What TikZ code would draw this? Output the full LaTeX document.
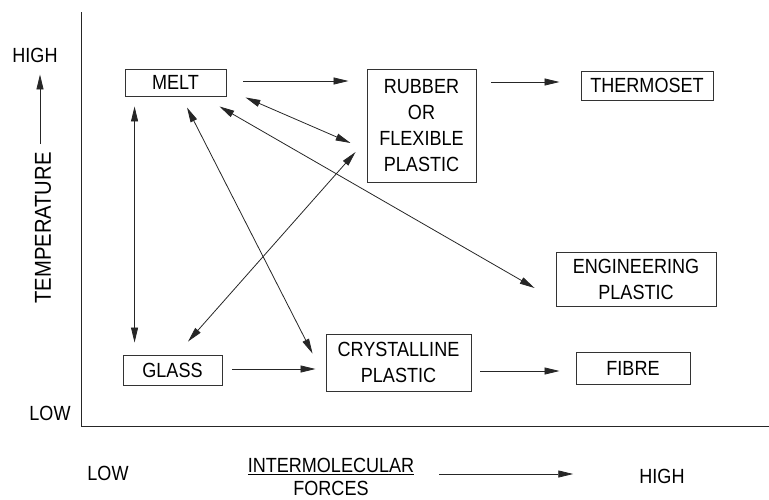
\documentclass[tikz,border=0pt]{standalone}
\usepackage{fontspec}
\setmainfont{Liberation Sans}[FakeStretch=0.88]
\usetikzlibrary{arrows.meta,calc}
\begin{document}
\begin{tikzpicture}[x=1pt,y=-1pt,
  box/.style={draw=black!80,line width=0.9pt,inner sep=0pt,align=center,
    font=\fontsize{20.5}{26}\selectfont},
  lbl/.style={inner sep=0pt,align=center,font=\fontsize{20.5}{23}\selectfont},
  conn/.style={draw=black!85,line width=0.8pt,-{Triangle[length=15pt,width=7pt]}},
  dconn/.style={draw=black!85,line width=0.8pt,{Triangle[length=15pt,width=7pt]}-{Triangle[length=15pt,width=7pt]}}]
\useasboundingbox (0,0) rectangle (769,499);
% axes
\coordinate (ytop) at (81,12);
\coordinate (origin) at (81,426);
\coordinate (xend) at (769,426);
\draw[black!85,line width=0.8pt] (ytop) -- (origin) -- (xend);
% axis labels
\node[lbl] (yhigh) at (35,55) {HIGH};
\node[lbl] (ylow) at (50,413) {LOW};
\node[lbl,rotate=90,font=\fontsize{23}{23}\selectfont] (ytemp) at (43,228) {TEMPERATURE};
\draw[conn] ($(ytemp.east)+(-3,-8)$) -- ($(yhigh.south)+(5,12)$);
\node[lbl] (xlow) at (108,473) {LOW};
\node[lbl] (xforces) at (331,477) {\underline{INTERMOLECULAR}\\FORCES};
\node[lbl] (xhigh) at (662,476) {HIGH};
\draw[conn] ($(xforces.east)+(25,-3)$) -- ($(xhigh.west)+(-66,-2)$);
% boxes
\node[box,minimum width=101pt,minimum height=27pt] (melt) at (175.5,82.5) {MELT};
\node[box,minimum width=109pt,minimum height=113pt] (rubber) at (421.5,125.5) {RUBBER\\OR\\FLEXIBLE\\PLASTIC};
\node[box,minimum width=132pt,minimum height=29pt] (thermo) at (647,85.5) {THERMOSET};
\node[box,minimum width=160pt,minimum height=54pt] (eng) at (636,279) {ENGINEERING\\PLASTIC};
\node[box,minimum width=145pt,minimum height=57pt] (cryst) at (398.5,362.5) {CRYSTALLINE\\PLASTIC};
\node[box,minimum width=114pt,minimum height=32pt] (fibre) at (633,368) {FIBRE};
\node[box,minimum width=99pt,minimum height=30pt] (glass) at (172.5,370) {GLASS};
% connectors
\draw[conn] ($(melt.east)+(17,-1.5)$) -- ($(rubber.west)+(-18,-44.5)$);
\draw[conn] ($(rubber.east)+(15,-43.5)$) -- ($(thermo.west)+(-21,-3.5)$);
\draw[dconn] ($(melt.south east)+(19,1)$) -- ($(rubber.west)+(-16,17.5)$);
\draw[dconn] ($(melt.south east)+(-7,10)$) -- ($(eng.west)+(-21,9)$);
\draw[dconn] ($(melt.south)+(11.5,11)$) -- ($(cryst.north west)+(-13,20)$);
\draw[dconn] ($(melt.south west)+(10,10)$) -- ($(glass.north west)+(12,-12)$);
\draw[dconn] ($(glass.north)+(15.5,-13)$) -- ($(rubber.west)+(-11,26.5)$);
\draw[conn] ($(glass.east)+(10,-1)$) -- ($(cryst.west)+(-10,6.5)$);
\draw[conn] ($(cryst.east)+(9,8.5)$) -- ($(fibre.west)+(-16,3)$);
\end{tikzpicture}
\end{document}
